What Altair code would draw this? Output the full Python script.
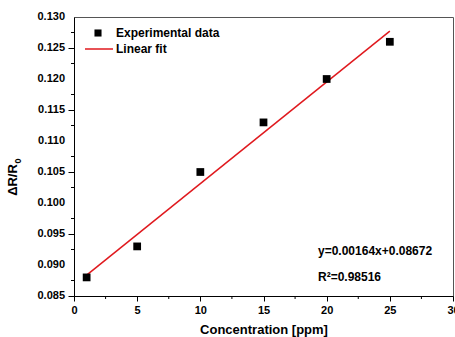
import altair as alt
import pandas as pd

# Measured response vs. gas concentration
conc = [1, 5, 10, 15, 20, 25]
response = [0.088, 0.093, 0.105, 0.113, 0.120, 0.126]

# Linear fit reported on the chart
slope = 0.00164
intercept = 0.08672
fit_x = [1, 25]

x_major = [0, 5, 10, 15, 20, 25, 30]
x_minor = [2.5, 7.5, 12.5, 17.5, 22.5, 27.5]
y_major = [0.085, 0.090, 0.095, 0.100, 0.105, 0.110, 0.115, 0.120, 0.125, 0.130]
y_minor = [0.0875, 0.0925, 0.0975, 0.1025, 0.1075, 0.1125, 0.1175, 0.1225, 0.1275]

pts = pd.DataFrame({"x": conc, "y": response})
fit = pd.DataFrame({"x": fit_x, "y": [slope * v + intercept for v in fit_x]})

FONT = "Liberation Sans"
W, H = 379, 279

x_scale = alt.Scale(domain=[0, 30], nice=False, zero=False)
y_scale = alt.Scale(domain=[0.085, 0.130], nice=False, zero=False)

x_axis = alt.Axis(
    values=x_major,
    title="Concentration [ppm]",
    titleFont=FONT, titleFontSize=13, titleFontWeight="bold", titleColor="black",
    titlePadding=8,
    labelFont=FONT, labelFontSize=11, labelFontWeight="bold", labelColor="black",
    labelOverlap=False, labelPadding=3, labelFlush=False,
    tickSize=5, tickColor="black", domainColor="black", grid=False,
)
y_axis = alt.Axis(
    values=y_major,
    title=None,
    labels=False,
    tickSize=6, tickColor="black", domainColor="black", grid=False,
)

points = alt.Chart(pts).mark_point(shape="square", filled=True, color="black", size=60, opacity=1).encode(
    x=alt.X("x:Q", scale=x_scale, axis=x_axis),
    y=alt.Y("y:Q", scale=y_scale, axis=y_axis),
)

line = alt.Chart(fit).mark_line(color="#e0191e", strokeWidth=1.5).encode(
    x=alt.X("x:Q", scale=x_scale),
    y=alt.Y("y:Q", scale=y_scale),
)

# Y tick labels, placed through the y scale
y_labels = alt.Chart(pd.DataFrame({"v": y_major})).mark_text(
    align="right", baseline="middle", font=FONT, fontSize=11, fontWeight="bold", color="black"
).encode(
    y=alt.Y("v:Q", scale=y_scale),
    x=alt.value(-9),
    text=alt.Text("v:Q", format=".3f"),
)

# Minor ticks on both axes, placed through the same scales
x_minor_ticks = alt.Chart(pd.DataFrame({"x": x_minor})).mark_rule(color="black", strokeWidth=1).encode(
    x=alt.X("x:Q", scale=x_scale), y=alt.value(H), y2=alt.value(H + 3)
)
y_minor_ticks = alt.Chart(pd.DataFrame({"y": y_minor})).mark_rule(color="black", strokeWidth=1).encode(
    y=alt.Y("y:Q", scale=y_scale), x=alt.value(0), x2=alt.value(-3)
)

one = pd.DataFrame({"k": [0]})


def label(text, x, y, size=12, **kw):
    return alt.Chart(one).mark_text(
        text=text, font=FONT, fontSize=size, fontWeight="bold", color="black", **kw
    ).encode(x=alt.value(x), y=alt.value(y))


# Legend drawn inside the plot area
legend_pt = alt.Chart(one).mark_point(shape="square", filled=True, color="black", size=50, opacity=1).encode(
    x=alt.value(24), y=alt.value(16)
)
legend_line = alt.Chart(one).mark_rule(color="#e0191e", strokeWidth=1.5).encode(
    x=alt.value(11), x2=alt.value(39), y=alt.value(32)
)
legend_a = label("Experimental data", 42, 16, align="left", baseline="middle")
legend_b = label("Linear fit", 42, 32, align="left", baseline="middle")

# Fit equation and coefficient of determination
eq_a = label(f"y={slope:.5f}x+{intercept:.5f}", 244, 234, align="left", baseline="middle")
eq_b = label("R²=0.98516", 244, 260, align="left", baseline="middle")

# Y-axis title with subscript
ytitle = label("ΔR/R", -61, 163, size=13, align="center", baseline="middle", angle=270)
ytitle_sub = label("0", -56, 144, size=9, align="center", baseline="middle", angle=270)

chart = alt.layer(
    line, points, y_labels, x_minor_ticks, y_minor_ticks,
    legend_pt, legend_line, legend_a, legend_b, eq_a, eq_b, ytitle, ytitle_sub
).properties(
    width=W,
    height=H,
    autosize=alt.AutoSizeParams(type="none"),
    padding={"left": 74, "top": 17, "right": 2, "bottom": 41},
    background="white",
).configure_view(
    stroke="#555555", strokeWidth=1
)

chart.save("out.html", embed_options={"renderer": "svg", "actions": False})
